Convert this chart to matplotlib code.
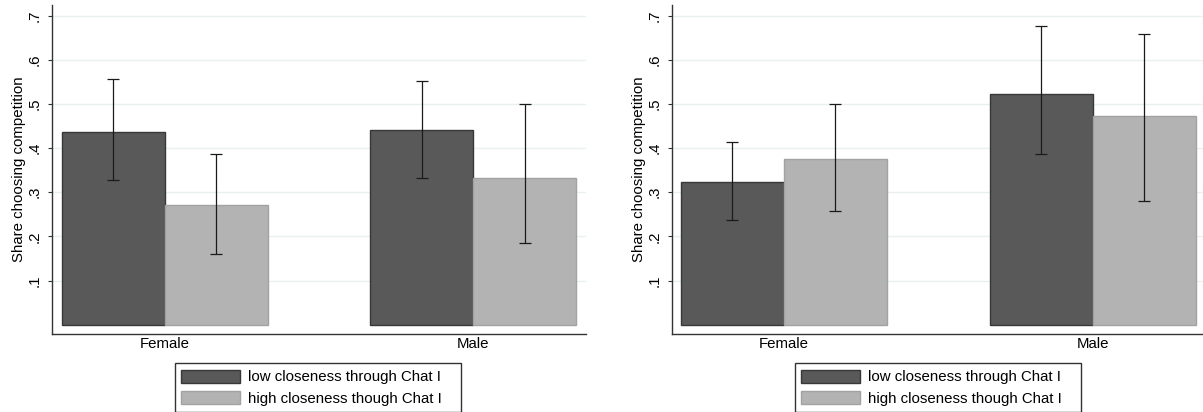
import numpy as np
import matplotlib
matplotlib.use("Agg")
import matplotlib.pyplot as plt
from matplotlib.ticker import FuncFormatter

# categories and series
categories = ["Female", "Male"]
series_labels = ["low closeness through Chat I", "high closeness though Chat I"]
y_ticks = [0.1, 0.2, 0.3, 0.4, 0.5, 0.6, 0.7]

# left panel: means and CI bounds (low, high)
left_low = [0.437, 0.442]
left_low_ci = [(0.328, 0.556), (0.333, 0.551)]
left_high = [0.270, 0.332]
left_high_ci = [(0.161, 0.386), (0.184, 0.500)]

# right panel
right_low = [0.324, 0.523]
right_low_ci = [(0.238, 0.414), (0.386, 0.676)]
right_high = [0.375, 0.473]
right_high_ci = [(0.258, 0.499), (0.281, 0.658)]

DARK = "#595959"
DARK_EDGE = "#383838"
LIGHT = "#b3b3b3"
LIGHT_EDGE = "#a2a2a2"
GRID = "#e8f0f2"
FS = 10.8

plt.rcParams["font.family"] = ["Liberation Sans", "DejaVu Sans"]

W, H = 1203, 412
fig = plt.figure(figsize=(W / 100, H / 100), dpi=100)


def px_axes(x0, x1, y_top, y_bot):
    return fig.add_axes([x0 / W, 1 - y_bot / H, (x1 - x0) / W, (y_bot - y_top) / H])


def draw_panel(ax, low, low_ci, high, high_ci, xlim, legend_box):
    x = np.arange(len(categories))
    width = 1 / 3
    for vals, ci, off, fc, ec, lab in [
        (low, low_ci, -width / 2, DARK, DARK_EDGE, series_labels[0]),
        (high, high_ci, width / 2, LIGHT, LIGHT_EDGE, series_labels[1]),
    ]:
        ax.bar(x + off, vals, width=width, color=fc, edgecolor=ec,
               linewidth=1.0, label=lab, zorder=2)
        lo = np.array([c[0] for c in ci])
        hi = np.array([c[1] for c in ci])
        mid = (lo + hi) / 2
        ax.errorbar(x + off, mid, yerr=[mid - lo, hi - mid], fmt="none",
                    ecolor="#1a1a1a", elinewidth=0.9, capsize=4.3,
                    capthick=0.9, zorder=3)

    ax.set_xlim(*xlim)
    ax.set_ylim(-0.021, 0.724)
    ax.set_xticks(x)
    ax.set_xticklabels(categories, fontsize=FS)
    ax.tick_params(axis="x", length=0, pad=1.8)
    ax.set_yticks(y_ticks)
    ax.yaxis.set_major_formatter(FuncFormatter(lambda v, p: ("%.1f" % v).lstrip("0")))
    ax.tick_params(axis="y", length=3, width=0.8, pad=4.3, color="#333333",
                   labelsize=FS)
    for lbl in ax.get_yticklabels():
        lbl.set_rotation(90)
        lbl.set_va("center")
    ax.grid(axis="y", color=GRID, linewidth=1.0, zorder=0)
    ax.set_axisbelow(True)
    for s in ["top", "right"]:
        ax.spines[s].set_visible(False)
    for s in ["left", "bottom"]:
        ax.spines[s].set_color("#333333")
        ax.spines[s].set_linewidth(1.0)
    ax.set_ylabel("Share choosing competition", fontsize=FS)
    ax.yaxis.set_label_coords(-0.049, 0.5)

    leg = ax.legend(loc="upper left", bbox_to_anchor=legend_box, mode="expand",
                    borderaxespad=0, fontsize=FS, frameon=True, fancybox=False,
                    edgecolor="black", borderpad=0.42, handlelength=3.9,
                    handleheight=0.95, handletextpad=0.55, labelspacing=0.45)
    leg.get_frame().set_linewidth(1.0)


ax1 = px_axes(52, 586, 5, 334)
draw_panel(ax1, left_low, left_low_ci, left_high, left_high_ci,
           (-0.365, 1.365), (0.2303, -0.6, 0.5356, 0.511))

ax2 = px_axes(671.7, 1203, 5, 334)
draw_panel(ax2, right_low, right_low_ci, right_high, right_high_ci,
           (-0.3625, 1.357), (0.232, -0.6, 0.538, 0.511))

fig.savefig("out.png", dpi=100)
